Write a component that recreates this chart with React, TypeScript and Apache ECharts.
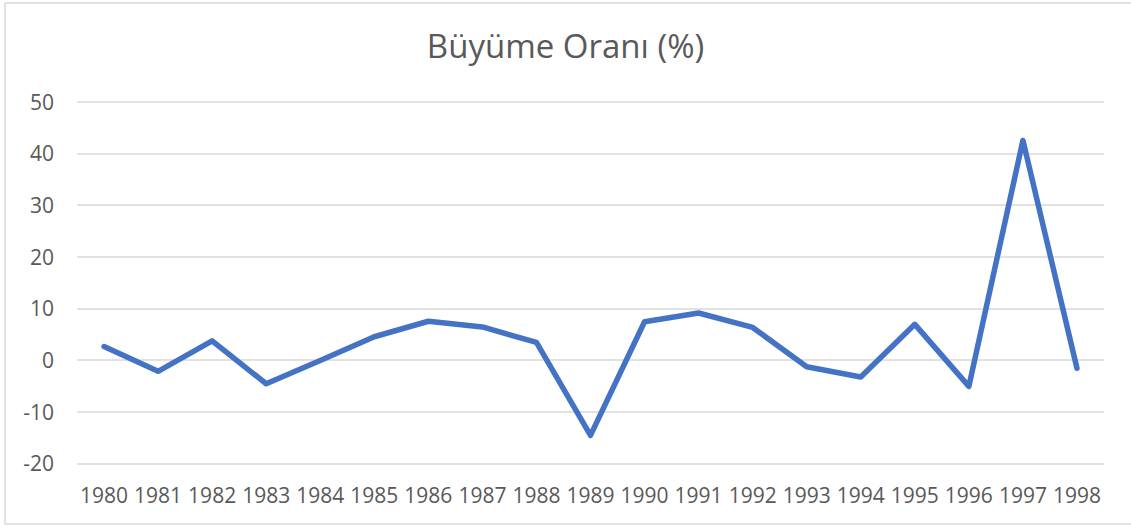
import React, { useEffect, useRef } from "react";
import * as echarts from "echarts";

const years = ["1980","1981","1982","1983","1984","1985","1986","1987","1988","1989","1990","1991","1992","1993","1994","1995","1996","1997","1998"];
const growth = [2.6, -2.2, 3.7, -4.6, -0.1, 4.5, 7.5, 6.4, 3.4, -14.6, 7.4, 9.1, 6.3, -1.3, -3.3, 6.9, -5.1, 42.5, -1.6];
const titleText = "Büyüme Oranı (%)";

export default function App() {
  const ref = useRef<HTMLDivElement>(null);
  useEffect(() => {
    if (!ref.current) return;
    const chart = echarts.init(ref.current, undefined, { renderer: "svg" });
    const font = "'Open Sans', sans-serif";
    chart.setOption({
      animation: false,
      backgroundColor: "#ffffff",
      title: {
        text: titleText,
        left: "center",
        top: 24,
        textStyle: { fontFamily: font, fontSize: 33, fontWeight: "normal", color: "#595959" },
      },
      graphic: [
        {
          type: "rect",
          shape: { x: 5, y: 3, width: 1130, height: 521 },
          style: { fill: "none", stroke: "#d9d9d9", lineWidth: 1.5 },
          silent: true,
        },
      ],
      grid: { left: 77, right: 27, top: 101.7, bottom: 65.7, containLabel: false },
      xAxis: {
        type: "category",
        data: years,
        boundaryGap: true,
        axisLine: { show: false },
        axisTick: { show: false },
        axisLabel: { interval: 0, margin: 21, fontFamily: font, fontSize: 21, color: "#595959" },
      },
      yAxis: {
        type: "value",
        min: -20,
        max: 50,
        interval: 10,
        axisLine: { show: false },
        axisTick: { show: false },
        splitLine: { lineStyle: { color: "#d9d9d9", width: 1.5 } },
        axisLabel: { margin: 23, fontFamily: font, fontSize: 21, color: "#595959" },
      },
      series: [
        {
          type: "line",
          data: growth,
          showSymbol: false,
          lineStyle: { color: "#4472c4", width: 5.5, cap: "round", join: "round" },
          itemStyle: { color: "#4472c4" },
        },
      ],
    });
    return () => chart.dispose();
  }, []);
  return (
    <div
      ref={ref}
      style={{ position: "fixed", left: 0, top: 0, width: 1131, height: 529 }}
    />
  );
}
